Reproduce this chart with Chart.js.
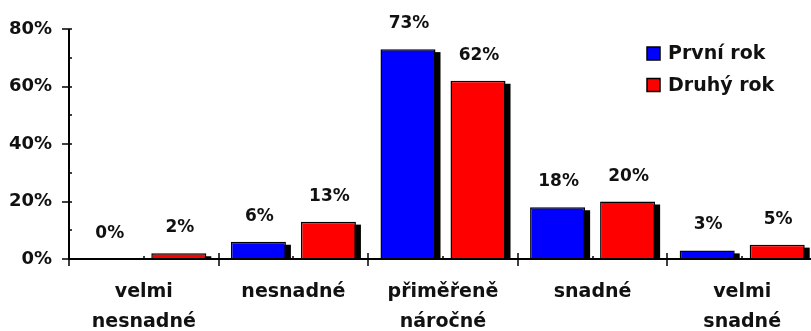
<!DOCTYPE html>
<html>
<head>
<meta charset="utf-8">
<script src="https://cdn.jsdelivr.net/npm/chart.js@4/dist/chart.umd.min.js"></script>
<style>
html,body{margin:0;padding:0;background:#fff;overflow:hidden;}
#wrap{width:817px;height:331px;}
</style>
</head>
<body>
<div id="wrap"><canvas id="c" width="817" height="331"></canvas></div>
<script>
const categories = [['velmi','nesnadné'], 'nesnadné', ['přiměřeně','náročné'], 'snadné', ['velmi','snadné']];
const prvniRok = [0, 6, 73, 18, 3];
const druhyRok = [2, 13, 62, 20, 5];
const seriesNames = ['První rok', 'Druhý rok'];
const yTicks = [0, 20, 40, 60, 80];
const yMinorTicks = [10, 30, 50, 70];

const FONT = '"DejaVu Sans", sans-serif';
const TXT = '#111';

const decor = {
  id: 'decor',
  beforeDatasetsDraw(chart) {
    const ctx = chart.ctx;
    const y = chart.scales.y;
    const base = y.getPixelForValue(0);
    ctx.save();
    ctx.fillStyle = '#000';
    chart.data.datasets.forEach((ds, i) => {
      chart.getDatasetMeta(i).data.forEach(bar => {
        const w = bar.width;
        const left = bar.x - w / 2 + 5;
        const top = bar.y + 3;
        if (base - top > 0) ctx.fillRect(left, top, w, base - top);
      });
    });
    ctx.restore();
  },
  afterDatasetsDraw(chart) {
    const ctx = chart.ctx;
    const x = chart.scales.x, y = chart.scales.y;
    const area = chart.chartArea;
    const base = y.getPixelForValue(0);
    ctx.save();
    // value labels
    ctx.fillStyle = TXT;
    ctx.font = 'bold 17px ' + FONT;
    ctx.textAlign = 'center';
    ctx.textBaseline = 'alphabetic';
    chart.data.datasets.forEach((ds, i) => {
      chart.getDatasetMeta(i).data.forEach((bar, j) => {
        ctx.fillText(ds.data[j] + '%', bar.x + 1, bar.y - 21);
      });
    });
    // axes
    ctx.strokeStyle = '#000';
    ctx.lineWidth = 2;
    ctx.beginPath();
    ctx.moveTo(area.left, y.getPixelForValue(80));
    ctx.lineTo(area.left, base + 1);
    ctx.moveTo(area.left - 1, base);
    ctx.lineTo(chart.width, base);
    ctx.stroke();
    ctx.lineWidth = 1.5;
    ctx.beginPath();
    yTicks.forEach(v => {
      const p = Math.round(y.getPixelForValue(v));
      ctx.moveTo(area.left - 7, p);
      ctx.lineTo(area.left + 3, p);
    });
    yMinorTicks.forEach(v => {
      const p = Math.round(y.getPixelForValue(v));
      ctx.moveTo(area.left, p);
      ctx.lineTo(area.left + 3, p);
    });
    const n = categories.length;
    const cw = x.width / n;
    for (let i = 0; i <= n; i++) {
      const px = Math.round(x.left + i * cw);
      ctx.moveTo(px, base - 6);
      ctx.lineTo(px, base + 7);
    }
    for (let i = 0; i < n; i++) {
      const px = Math.round(x.getPixelForValue(i));
      ctx.moveTo(px, base - 3);
      ctx.lineTo(px, base);
    }
    ctx.stroke();
    // legend
    const colors = chart.data.datasets.map(d => d.backgroundColor);
    ctx.font = 'bold 19px ' + FONT;
    ctx.textAlign = 'left';
    ctx.textBaseline = 'middle';
    seriesNames.forEach((name, i) => {
      const cy = 53.5 + i * 31.5;
      ctx.fillStyle = colors[i];
      ctx.fillRect(647, cy - 6.5, 13, 13);
      ctx.lineWidth = 1.5;
      ctx.strokeStyle = '#000';
      ctx.strokeRect(647, cy - 6.5, 13, 13);
      ctx.fillStyle = TXT;
      ctx.fillText(name, 668, cy + 1);
    });
    ctx.restore();
  }
};

new Chart(document.getElementById('c'), {
  type: 'bar',
  data: {
    labels: categories,
    datasets: [
      { label: seriesNames[0], data: prvniRok, backgroundColor: '#0000ff', borderColor: '#000', borderWidth: 1.5, borderSkipped: 'bottom' },
      { label: seriesNames[1], data: druhyRok, backgroundColor: '#ff0000', borderColor: '#000', borderWidth: 1.5, borderSkipped: 'bottom' }
    ]
  },
  options: {
    responsive: false,
    animation: false,
    devicePixelRatio: 1,
    layout: { padding: { top: 29, left: 0, right: 0, bottom: 0 } },
    plugins: { legend: { display: false }, tooltip: { enabled: false } },
    datasets: { bar: { categoryPercentage: 0.936, barPercentage: 0.786 } },
    scales: {
      x: {
        grid: { display: false },
        border: { display: false },
        ticks: { color: TXT, font: { family: FONT, size: 19, weight: 'bold', lineHeight: 1.58 }, padding: 10, maxRotation: 0, autoSkip: false },
        afterFit: s => { s.height = 72; }
      },
      y: {
        min: 0, max: 80,
        grid: { display: false },
        border: { display: false },
        ticks: { stepSize: 20, color: TXT, font: { family: FONT, size: 18, weight: 'bold' }, padding: 9, callback: v => v + '%' },
        afterFit: s => { s.width = 69; }
      }
    }
  },
  plugins: [decor]
});
</script>
</body>
</html>
